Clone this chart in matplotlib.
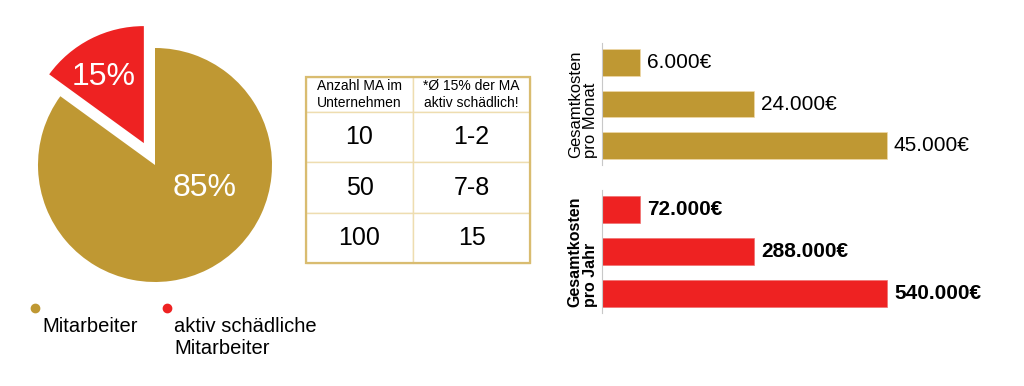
import matplotlib.pyplot as plt
from matplotlib.lines import Line2D
from matplotlib.patches import Rectangle

plt.rcParams['font.family'] = ['Liberation Sans', 'DejaVu Sans']

GOLD = '#BF9833'
RED = '#EE2222'
GRID = '#EEDDB0'

# pie data
pie_labels = ['aktiv schädliche\nMitarbeiter', 'Mitarbeiter']
pie_values = [15, 85]

# table data
table_header = ['Anzahl MA im\nUnternehmen', '*Ø 15% der MA\naktiv schädlich!']
table_ma = ['10', '50', '100']
table_bad = ['1-2', '7-8', '15']

# bar data
cost_month = [6000, 24000, 45000]
cost_year = [72000, 288000, 540000]


def fmt_eur(v):
    return f"{v:,}".replace(',', '.') + '€'


def px_axes(fig, x0, y0, x1, y1):
    # box given in pixel coords, y from top
    W, H = 1024, 386
    return fig.add_axes([x0 / W, 1 - y1 / H, (x1 - x0) / W, (y1 - y0) / H])


fig = plt.figure(figsize=(10.24, 3.86), dpi=100)

# ---- pie ----
R = 117
ax = px_axes(fig, 155 - 150, 165 - 150, 155 + 150, 165 + 150)
ax.pie(pie_values, colors=[RED, GOLD], startangle=90, counterclock=True,
       explode=[0.21, 0], radius=1)
ax.set_xlim(-150 / R, 150 / R)
ax.set_ylim(-150 / R, 150 / R)
ax.set_aspect('equal')
ax.axis('off')
ax.text(-0.44, 0.75, f"{pie_values[0]}%", color='white', fontsize=23,
        ha='center', va='center')
ax.text(0.42, -0.20, f"{pie_values[1]}%", color='white', fontsize=23,
        ha='center', va='center')

# legend
for (dx, lab, col) in [(35, pie_labels[1], GOLD), (167, pie_labels[0], RED)]:
    fig.add_artist(Line2D([dx / 1024], [1 - 308 / 386], marker='o', markersize=6,
                          color=col, transform=fig.transFigure, linestyle='none'))
    fig.text((dx + 7) / 1024, 1 - 317 / 386, lab, fontsize=14.5, ha='left',
             va='top', linespacing=1.2)

# ---- table ----
tax = px_axes(fig, 306, 77, 530, 263)
tax.axis('off')
cells = [[a, b] for a, b in zip(table_ma, table_bad)]
tbl = tax.table(cellText=cells, colLabels=table_header, bbox=[0, 0, 1, 1],
                colWidths=[107, 117], cellLoc='center')
tbl.auto_set_font_size(False)
for (r, c), cell in tbl.get_celld().items():
    cell.set_edgecolor(GRID)
    cell.set_linewidth(1)
    cell.set_height(35 if r == 0 else 50)
    cell.get_text().set_fontsize(10 if r == 0 else 18)
tax.add_patch(Rectangle((0, 0), 1, 1, transform=tax.transAxes, fill=False,
                        edgecolor='#D9BC70', linewidth=1.6, clip_on=False))


# ---- bars ----
def bar_panel(y0, y1, values, color, label, bold):
    bx = px_axes(fig, 602, y0, 1010, y1)
    pos = range(len(values))
    bx.barh(pos, values, height=0.65, color=color, edgecolor='#F0D8A8' if color == GOLD else '#F07070',
            linewidth=0.5)
    xmax = max(values) * (1010 - 602) / 285
    bx.set_xlim(0, xmax)
    bx.set_ylim(2.47, -0.47)
    for p, v in zip(pos, values):
        bx.annotate(fmt_eur(v), (v, p), xytext=(7, 0), textcoords='offset pixels',
                    va='center', ha='left', fontsize=15,
                    fontweight='bold' if bold else 'normal')
    for s in ['top', 'right', 'bottom']:
        bx.spines[s].set_visible(False)
    bx.spines['left'].set_color('#C8C8C8')
    bx.set_xticks([])
    bx.set_yticks([])
    bx.set_ylabel(label, fontsize=12 if not bold else 11.5,
                  fontweight='bold' if bold else 'normal',
                  multialignment='left', linespacing=1.0, labelpad=3)
    bx.patch.set_alpha(0)


bar_panel(43, 165, cost_month, GOLD, 'Gesamtkosten\npro Monat', False)
bar_panel(190, 313, cost_year, RED, 'Gesamtkosten\npro Jahr', True)

fig.savefig('out.png', dpi=100)
